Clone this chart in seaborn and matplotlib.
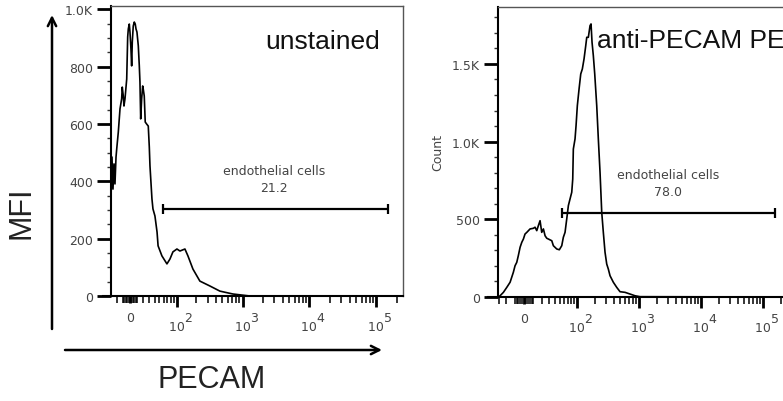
import numpy as np
import matplotlib
matplotlib.use("Agg")
import matplotlib.pyplot as plt
import seaborn as sns
from matplotlib.patches import FancyArrowPatch

# ---- data (fluorescence value, count) ----
unstained_x = [-29, -27.5, -25.8, -24.1, -22.5, -20.8, -19.7, -17.2, -14.6, -12.1, -11.2, -9.7,
               -8.7, -7.2, -4.7, -3.3, -2.4, -1.0, 0, 1.4, 2.4, 3.3, 4.7, 6.2, 7.6, 8.7, 10.1,
               12.1, 13.6, 14.6, 15.7, 17.2, 18.8, 19.7, 21.3, 22.9, 25.3, 28.0, 29.8, 31.0,
               34.6, 36.5, 40.4, 44.7, 46.9, 55.6, 68.5, 77.2, 86.6, 100.7, 112.5, 134.9,
               150.2, 179.4, 229, 324, 459, 718, 1289, 250000]
unstained_y = [356, 485, 373, 461, 391, 485, 513, 572, 653, 688, 729, 698,
               663, 688, 757, 904, 932, 949, 921, 862, 803, 886, 942, 956, 949, 932, 921,
               873, 803, 747, 618, 688, 733, 722, 698, 607, 600, 593, 520, 454,
               339, 304, 279, 223, 175, 140, 112, 129, 154, 164, 157, 164,
               140, 94, 52, 35, 17, 7, 0, 0]

pecam_x = [-31, -28.8, -24.0, -19.5, -15.4, -11.6, -9.7, -7.8, -6.1, -4.2, -2.4, -0.7, 1.0,
           2.9, 6.4, 10.0, 11.9, 13.9, 15.8, 17.9, 20.0, 22.2, 24.5, 26.9, 29.3, 34.7, 37.4,
           43.6, 48.8, 54.1, 57.8, 62.0, 66.4, 70.9, 75.8, 81.1, 84.3, 86.3, 92.2, 95.9,
           100.8, 107.7, 114.9, 122.1, 130.3, 139.0, 144.4, 153.4, 163.5, 169.8, 176.3,
           185.1, 195.1, 210.3, 223.3, 238.0, 253.6, 269.2, 286.8, 305.6, 324.3, 345.6,
           390.8, 443.6, 501.5, 604, 728, 876, 1055, 250000]
pecam_y = [0, 8, 30, 62, 95, 159, 201, 223, 266, 320, 352, 373, 405,
           416, 438, 442, 449, 427, 459, 491, 416, 438, 394, 378, 373, 362, 330,
           309, 304, 330, 384, 416, 502, 588, 631, 674, 759, 952, 1017, 1102,
           1231, 1338, 1435, 1467, 1532, 1617, 1671, 1671, 1746, 1757, 1639,
           1553, 1435, 1231, 1017, 802, 545, 416, 288, 212, 180, 137,
           95, 62, 34, 30, 19, 8, 2, 0]

# gates: start, end, level
gate_unstained = [58, 148000, 304]
gate_pecam = [54, 159000, 540]
gate_pct_unstained = "21.2"
gate_pct_pecam = "78.0"

major_x = [0, 1e2, 1e3, 1e4, 1e5]
major_x_labels = ["0", "      2\n  10", "      3\n  10", "      4\n  10", "      5\n  10"]
minor_x = ([-v for v in range(10, 100, 10)] + list(range(-8, 10, 2)) + list(range(10, 100, 10))
           + list(range(200, 1000, 100)) + list(range(2000, 10000, 1000))
           + list(range(20000, 100000, 10000)) + [200000])

yticks_left = [0, 200, 400, 600, 800, 1000]
ylabels_left = ["0", "200", "400", "600", "800", "1.0K"]
yticks_right = [0, 500, 1000, 1500]
ylabels_right = ["0", "500", "1.0K", "1.5K"]

sns.set_style("ticks")
plt.rcParams["font.family"] = ["DejaVu Sans"]

fig = plt.figure(figsize=(7.83, 4.02), dpi=100)
ax1 = fig.add_axes([111 / 783, 105 / 402, 292 / 783, 290 / 402])
ax2 = fig.add_axes([498 / 783, 104 / 402, 289.2 / 783, 290 / 402])


def biex(c):
    return (lambda x: np.arcsinh(np.asarray(x) / c) / np.log(10),
            lambda y: c * np.sinh(np.asarray(y) * np.log(10)))


def style_axis(ax, c, xlim, ylim, yt, yl, ymin_step, ext):
    ax.set_xscale("function", functions=biex(c))
    ax.set_xlim(*xlim)
    ax.set_ylim(*ylim)
    ax.set_xticks(major_x)
    ax.set_xticklabels(major_x_labels)
    ax.set_xticks([v for v in minor_x if xlim[0] < v < xlim[1]], minor=True)
    ax.set_yticks(yt)
    ax.set_yticklabels(yl)
    ax.set_yticks(np.arange(0, ylim[1], ymin_step), minor=True)
    ax.tick_params(axis="x", which="both", bottom=True, top=False, direction="out")
    ax.tick_params(axis="y", which="both", left=True, right=False, direction="out")
    ax.tick_params(axis="x", which="major", length=8, width=2, pad=3,
                   labelsize=9, labelcolor="#444444", color="black")
    ax.tick_params(axis="x", which="minor", length=5, width=1.1, color="black")
    ax.tick_params(axis="y", which="major", length=10, width=2, pad=3,
                   labelsize=9, labelcolor="#444444", color="black")
    ax.tick_params(axis="y", which="minor", length=3, width=1, color="#333333")
    ax.xaxis.get_major_ticks()[0].tick1line.set_markersize(5)
    for lab in ax.get_xticklabels():
        lab.set_linespacing(0.6)
        lab.set_multialignment("left")
    for side in ["top", "right"]:
        ax.spines[side].set_linewidth(1.0)
        ax.spines[side].set_color("#555555")
    for side in ["left", "bottom"]:
        ax.spines[side].set_linewidth(1.5)
        ax.spines[side].set_color("black")
    ax.spines["bottom"].set_bounds(ext, xlim[1])
    ax.set_xlabel("")
    ax.set_ylabel("")


def draw_gate(ax, gate, pct, text_y):
    x0, x1, lvl = gate
    ax.plot([x0, x1], [lvl, lvl], color="black", lw=1.6, solid_capstyle="butt")
    ax.plot([x0, x1], [lvl, lvl], ls="none", marker="|", ms=7, mew=1.6, color="black")
    ax.text(3000, text_y, "endothelial cells\n" + pct, ha="center", va="bottom",
            fontsize=9, color="#444444", linespacing=1.4)


sns.lineplot(x=unstained_x, y=unstained_y, ax=ax1, color="black", lw=1.2,
             estimator=None, sort=False)
sns.lineplot(x=pecam_x, y=pecam_y, ax=ax2, color="black", lw=1.2,
             estimator=None, sort=False)

style_axis(ax1, 41.7, (-29.2, 250000), (0, 1012), yticks_left, ylabels_left, 50, -45)
style_axis(ax2, 28.4, (-32, 250000), (0, 1866), yticks_right, ylabels_right, 100, -50)

draw_gate(ax1, gate_unstained, gate_pct_unstained, 356)
draw_gate(ax2, gate_pecam, gate_pct_pecam, 637)

ax2.set_ylabel("Count", fontsize=9, color="#444444")
ax2.yaxis.set_label_coords(-0.185, 0.5)

ax1.text(0.921, 0.855, "unstained", transform=ax1.transAxes, ha="right", va="baseline",
         fontsize=19, family="Liberation Sans", color="#111111")
ax2.text(0.342, 0.861, "anti-PECAM PE", transform=ax2.transAxes, ha="left", va="baseline",
         fontsize=19, family="Liberation Sans", color="#111111")

# axis arrows outside the left panel
fig.add_artist(FancyArrowPatch((52 / 783, 1 - 330 / 402), (52 / 783, 1 - 16 / 402),
                               transform=fig.transFigure, arrowstyle="->,head_length=6,head_width=3",
                               lw=1.8, color="black", shrinkA=0, shrinkB=0))
fig.add_artist(FancyArrowPatch((65 / 783, 1 - 351 / 402), (382 / 783, 1 - 351 / 402),
                               transform=fig.transFigure, arrowstyle="->,head_length=6,head_width=3",
                               lw=1.8, color="black", shrinkA=0, shrinkB=0))
fig.text(22 / 783, 1 - 213 / 402, "MFI", rotation=90, ha="center", va="center",
         fontsize=22, family="Liberation Sans", color="#222222")
fig.text(212 / 783, 1 - 380 / 402, "PECAM", ha="center", va="center",
         fontsize=22, family="Liberation Sans", color="#222222")

fig.savefig("out.png", dpi=100)
